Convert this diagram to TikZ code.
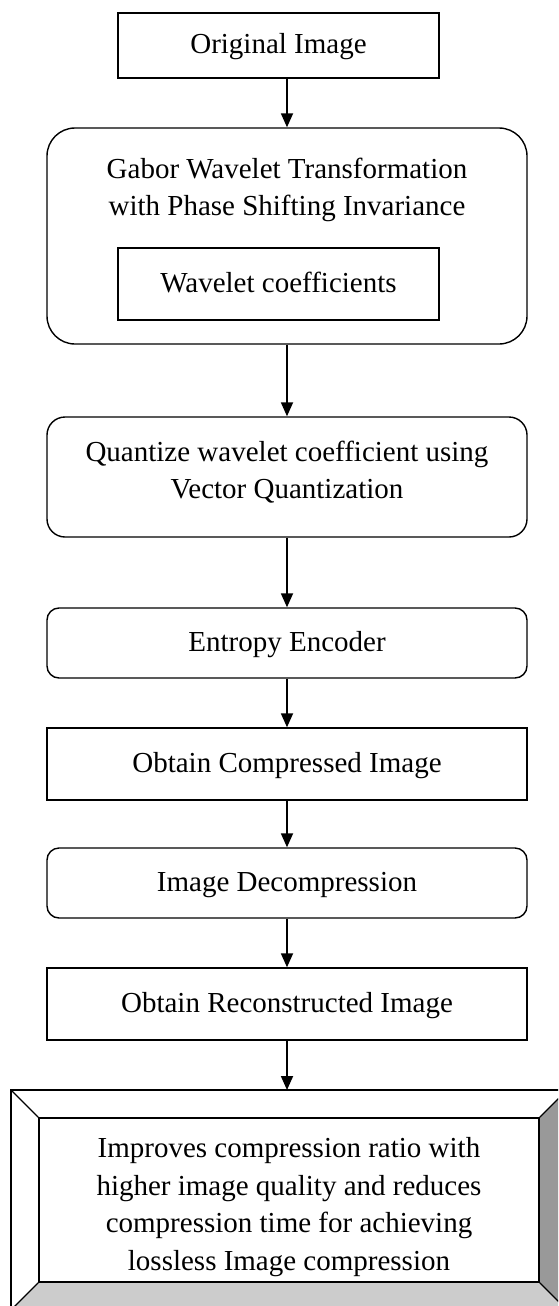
\documentclass[tikz,border=0pt]{standalone}
\usepackage{fontspec}
\setmainfont{Liberation Serif}
\usetikzlibrary{arrows.meta}
\begin{document}
\begin{tikzpicture}[x=1pt,y=-1pt,
  txt/.style={font=\fontsize{29}{37.5}\selectfont, align=center, inner sep=0pt},
  sqbox/.style={draw, line width=1.4pt, inner sep=0pt, minimum width=#1, font=\fontsize{29}{37.5}\selectfont, text height=20pt, text depth=3pt, align=center},
  rbox/.style={sqbox=480pt, rounded corners=#1},
  arr/.style={line width=1.8pt, -{Triangle[length=14pt,width=12pt]}}
]
\useasboundingbox (0,0) rectangle (558,1306);
\clip (0,0) rectangle (558,1306);

% nodes
\node[sqbox=321pt, minimum height=65pt] (orig) at (278.5,45.5) {Original Image};
\node[draw, line width=1.4pt, rounded corners=28pt, minimum width=480pt, minimum height=216pt, inner sep=0pt] (gabor) at (287,236) {};
\node[txt] (gabortxt) at (287,190) {Gabor Wavelet Transformation\\with Phase Shifting Invariance};
\node[sqbox=321pt, minimum height=72pt] (wave) at (278.5,284) {Wavelet coefficients};
\node[draw, line width=1.4pt, rounded corners=18pt, minimum width=480pt, minimum height=120pt, inner sep=0pt] (quant) at (287,477) {};
\node[txt] (quanttxt) at (287,472) {Quantize wavelet coefficient using\\Vector Quantization};
\node[rbox=12pt, minimum height=70pt] (entropy) at (287,643) {Entropy Encoder};
\node[sqbox=480pt, minimum height=72pt] (comp) at (287,764) {Obtain Compressed Image};
\node[rbox=12pt, minimum height=70pt] (decomp) at (287,883) {Image Decompression};
\node[sqbox=480pt, minimum height=72pt] (recon) at (287,1004) {Obtain Reconstructed Image};

% bevel result box
\coordinate (otl) at (11,1090);
\coordinate (otr) at (567,1090);
\coordinate (obl) at (11,1310);
\coordinate (obr) at (567,1310);
\node[draw, line width=1.4pt, minimum width=500pt, minimum height=164pt, inner sep=0pt] (res) at (289,1200) {};
\fill[black!40] (otr) -- (res.north east) -- (res.south east) -- (obr) -- cycle;
\fill[black!20] (obl) -- (res.south west) -- (res.south east) -- (obr) -- cycle;
\draw[line width=1.4pt] (otl) rectangle (obr);
\draw[line width=1.4pt] (res.north west) rectangle (res.south east);
\draw[line width=1.2pt] (otl) -- (res.north west);
\draw[line width=1.2pt] (otr) -- (res.north east);
\draw[line width=1.2pt] (obl) -- (res.south west);
\draw[line width=1.2pt] (obr) -- (res.south east);
\node[txt] (restxt) at (289,1207) {Improves compression ratio with\\higher image quality and reduces\\compression time for achieving\\lossless Image compression};

% connectors
\draw[arr] (orig.south -| gabor.north) -- (gabor.north);
\draw[arr] (gabor.south) -- (quant.north);
\draw[arr] (quant.south) -- (entropy.north);
\draw[arr] (entropy.south) -- (comp.north);
\draw[arr] (comp.south) -- (decomp.north);
\draw[arr] (decomp.south) -- (recon.north);
\draw[arr] (recon.south) -- (recon.south |- otl);
\end{tikzpicture}
\end{document}
